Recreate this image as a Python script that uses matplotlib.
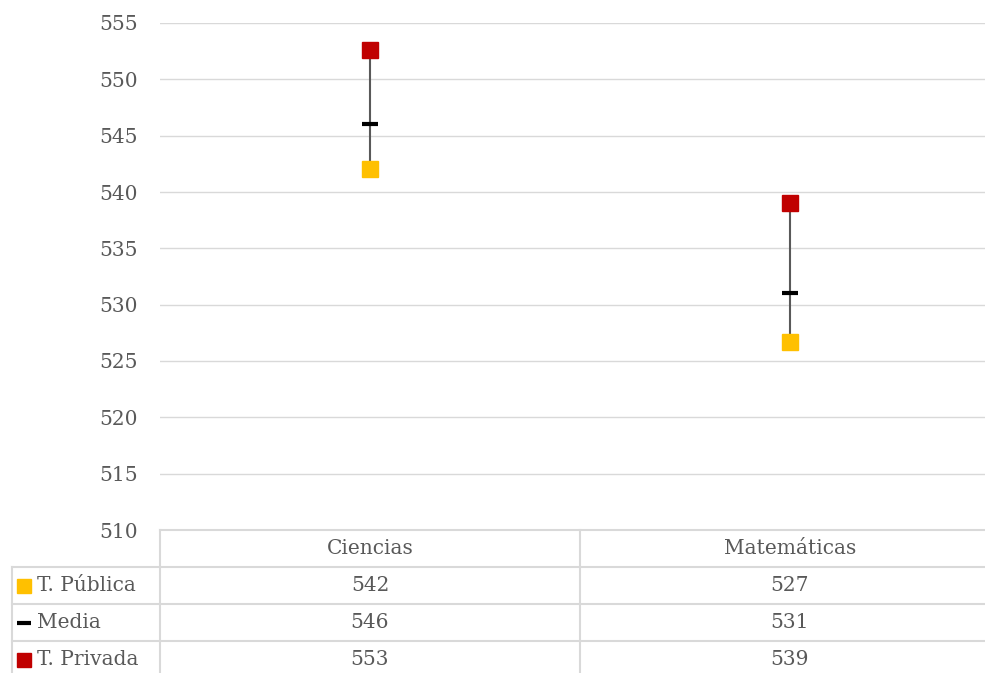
import numpy as np
import matplotlib
matplotlib.use("Agg")
import matplotlib.pyplot as plt

# Données
categories = ["Ciencias", "Matemáticas"]
series_names = ["T. Pública", "Media", "T. Privada"]
publica = [542.0, 526.7]
media = [546.0, 531.0]
privada = [552.6, 539.0]
etiquettes = [["542", "527"], ["546", "531"], ["553", "539"]]
yticks = [510, 515, 520, 525, 530, 535, 540, 545, 550, 555]

c_pub = "#FFC000"
c_priv = "#C00000"
c_grid = "#D9D9D9"
c_txt = "#595959"
fs = 14.5

plt.rcParams['font.family'] = ['DejaVu Serif']

W, H = 985, 673
fig = plt.figure(figsize=(W / 100, H / 100), dpi=100)

def px(x0, y0, x1, y1):
    return [x0 / W, 1 - y1 / H, (x1 - x0) / W, (y1 - y0) / H]

ax = fig.add_axes(px(160, 23, 1000, 530))
x = np.arange(len(categories))
ax.set_xlim(-0.5, len(categories) - 0.5)
ax.set_ylim(510, 555)
ax.set_yticks(yticks)
ax.grid(axis="y", color=c_grid, lw=1)
ax.set_axisbelow(True)
for s in ax.spines.values():
    s.set_visible(False)
ax.tick_params(axis="y", length=0, pad=16, labelsize=fs, labelcolor=c_txt)
ax.set_xticks([])

# Lignes haut-bas
ax.vlines(x, publica, privada, color="#595959", lw=1.5, zorder=2)
ax.plot(x, media, ls="none", marker="_", ms=11, mew=3, color="black", zorder=3)
ax.plot(x, publica, ls="none", marker="s", ms=11, color=c_pub, zorder=4)
ax.plot(x, privada, ls="none", marker="s", ms=11, color=c_priv, zorder=4)

# Table de données
tab = fig.add_axes(px(160, 530, 1000, 678))
tab.set_xlim(-0.5, len(categories) - 0.5)
nrows = len(series_names) + 1
tab.set_ylim(nrows, 0)
tab.axis("off")
leg_w = 148 / 420  # largeur colonne légende en unités de catégorie
kw = dict(color=c_grid, lw=1.5, clip_on=False)
tab.plot([-0.5, 1.5], [0, 0], **kw)
for r in range(1, nrows):
    tab.plot([-0.5 - leg_w, 1.5], [r, r], **kw)
tab.plot([-0.5, -0.5], [0, nrows], **kw)
tab.plot([0.5, 0.5], [0, nrows], **kw)
tab.plot([-0.5 - leg_w, -0.5 - leg_w], [1, nrows], **kw)

for i, c in enumerate(categories):
    tab.text(i, 0.5, c, ha="center", va="center", fontsize=fs, color=c_txt)
for r, name in enumerate(series_names):
    for i in range(len(categories)):
        tab.text(i, r + 1.5, etiquettes[r][i], ha="center", va="center",
                 fontsize=fs, color=c_txt)
    tab.text(-0.5 - leg_w + 0.06, r + 1.5, name, ha="left", va="center",
             fontsize=fs, color=c_txt, clip_on=False)

kx = -0.5 - leg_w + 0.028
tab.plot([kx], [1.5], ls="none", marker="s", ms=10, color=c_pub, clip_on=False)
tab.plot([kx], [2.5], ls="none", marker="_", ms=10, mew=3, color="black", clip_on=False)
tab.plot([kx], [3.5], ls="none", marker="s", ms=10, color=c_priv, clip_on=False)

fig.savefig("out.png", dpi=100)
